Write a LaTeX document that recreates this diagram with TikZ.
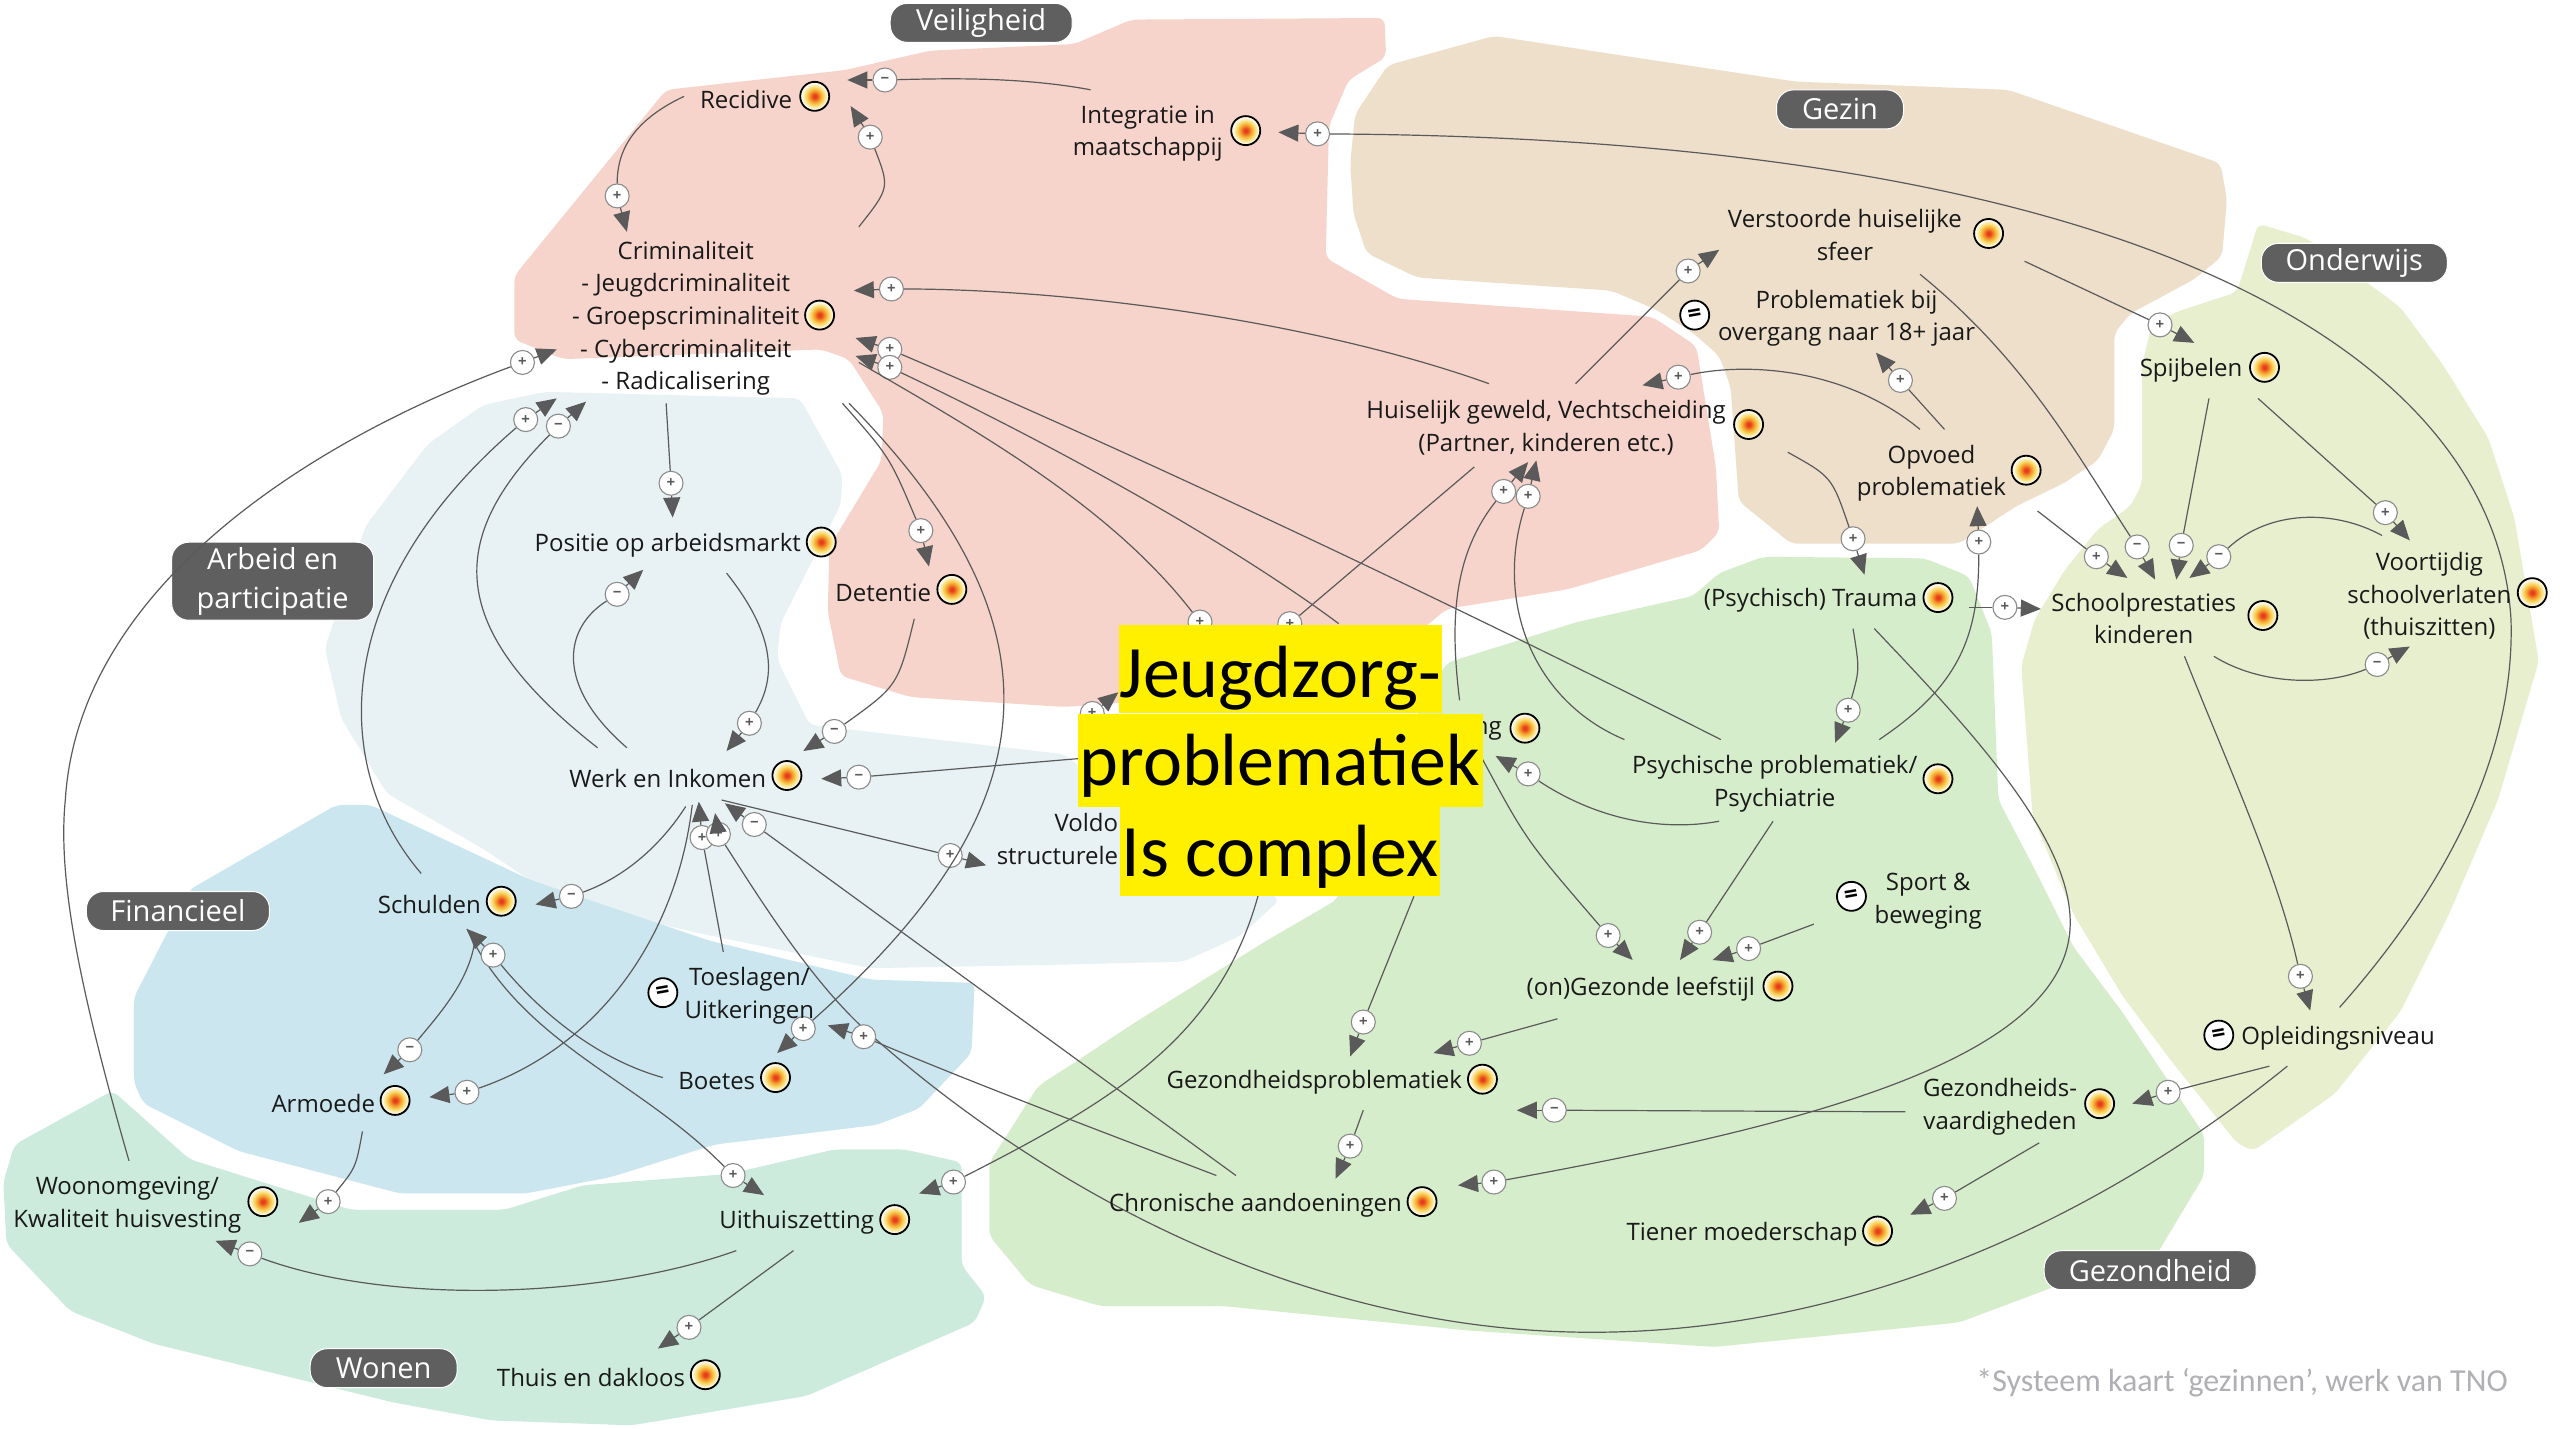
\documentclass[tikz,border=0pt]{standalone}
\usepackage{fontspec}
\setmainfont{Open Sans}
\newfontfamily\calibrifont{Carlito}
\usetikzlibrary{arrows.meta}
\definecolor{veilig}{HTML}{F7D4CB}
\definecolor{gezin}{HTML}{EEDFCB}
\definecolor{onderwijs}{HTML}{E8EFCF}
\definecolor{gezond}{HTML}{D6EDCB}
\definecolor{wonen}{HTML}{CCEBDD}
\definecolor{financieel}{HTML}{CBE6EF}
\definecolor{arbeid}{HTML}{E8F2F4}
\definecolor{linkgrey}{HTML}{5A5A5A}
\definecolor{pillgrey}{HTML}{5F5F5F}
\definecolor{notegrey}{HTML}{B0B0B4}
\definecolor{heatred}{HTML}{E63E1C}
\definecolor{heatorange}{HTML}{F4972A}
\definecolor{heatyellow}{HTML}{F8D75E}
\definecolor{heatpale}{HTML}{FBF4D6}
\definecolor{jeugdyellow}{HTML}{FFF000}
\pgfdeclareradialshading{heat}{\pgfpoint{0bp}{0bp}}{color(0bp)=(heatred);color(3bp)=(heatred);color(9bp)=(heatorange);color(15bp)=(heatyellow);color(21bp)=(heatpale);color(25bp)=(white);color(50bp)=(white)}
\tikzset{
  region/.style={rounded corners=7pt},
  link/.style={draw=linkgrey,line width=1.2pt},
  tip/.style={draw=linkgrey,fill=linkgrey,line width=1.2pt,-{Triangle[length=20pt,width=17pt]}},
  sign/.style={circle,draw=linkgrey!70,fill=white,line width=1.1pt,minimum size=24pt,inner sep=0pt,font=\fontsize{15}{15}\selectfont\bfseries,text=linkgrey},
  icon/.style={circle,draw=black,line width=1.8pt,shading=heat,minimum size=29pt,inner sep=0pt},
  eqsign/.style={circle,draw=black,fill=white,line width=1.8pt,minimum size=29pt,inner sep=0pt,font=\fontsize{24}{24}\selectfont\bfseries,text=black},
  concept/.style={inner sep=0pt,align=center,text=black!90,yshift=-1.5pt,font=\fontsize{24}{32.6}\selectfont},
  pill/.style={fill=pillgrey,draw=white,line width=1pt,rounded corners=17pt,text=white,align=center,inner sep=0pt,minimum height=39pt,font=\fontsize{29}{39}\selectfont},
  jeugd/.style={fill=jeugdyellow,text=black,inner sep=0pt,text depth=14pt,text height=64pt,font=\calibrifont\fontsize{74}{74}\selectfont}
}
\begin{document}
\begin{tikzpicture}[x=1.6327pt,y=-1.6327pt]
\useasboundingbox (0,0) rectangle (1568,875);
\fill [white] (0,0) rectangle (1568,875);

\fill [region,arbeid] (199,397) -- (224,322) -- (262,272) -- (296,248) -- (334,240) -- (490,244) -- (516,291) -- (515,309) -- (478,382) -- (476,404) -- (496,444) -- (652,462) -- (700,500) -- (784,551) -- (760,573) -- (725,589) -- (643,591) -- (533,593) -- (430,572) -- (344,552) -- (296,520) -- (237,486) -- (209,440) -- cycle;
\fill [region,financieel] (206,493) -- (227,493) -- (325,539) -- (434,576) -- (533,600) -- (597,602) -- (595,645) -- (563,679) -- (537,689) -- (438,701) -- (374,721) -- (322,731) -- (245,731) -- (146,705) -- (88,676) -- (82,663) -- (82,611) -- (116,545) -- cycle;
\fill [region,wonen] (69,668) -- (9,701) -- (2,724) -- (4,762) -- (43,803) -- (94,823) -- (241,859) -- (301,870) -- (387,873) -- (494,855) -- (597,810) -- (604,794) -- (589,775) -- (589,712) -- (554,704) -- (511,704) -- (447,719) -- (357,726) -- (309,741) -- (215,741) -- (116,710) -- cycle;
\fill [region,veilig] (693,12) -- (848,11) -- (849,35) -- (826,49) -- (814,77) -- (812,158) -- (856,183) -- (1012,194) -- (1039,212) -- (1051,286) -- (1053,326) -- (1042,337) -- (960,361) -- (886,373) -- (830,420) -- (652,433) -- (558,427) -- (515,414) -- (507,375) -- (508,335) -- (540,282) -- (541,253) -- (520,220) -- (503,214) -- (345,220) -- (315,208) -- (315,169) -- (408,55) -- (517,43) -- (570,31) -- (658,27) -- cycle;
\fill [region,gezin] (850,40) -- (915,22) -- (1000,35) -- (1100,50) -- (1230,55) -- (1360,100) -- (1364,122) -- (1361,157) -- (1344,171) -- (1305,192) -- (1295,204) -- (1295,263) -- (1285,282) -- (1264,296) -- (1235,310) -- (1200,333) -- (1097,333) -- (1086,324) -- (1065,307) -- (1060,237) -- (1053,218) -- (1037,204) -- (1015,190) -- (987,178) -- (868,170) -- (837,155) -- (829,131) -- (827,100) -- (830,70) -- cycle;
\fill [region,onderwijs] (1383,137) -- (1413,146) -- (1470,188) -- (1496,223) -- (1524,268) -- (1540,317) -- (1555,405) -- (1530,490) -- (1500,560) -- (1470,620) -- (1430,670) -- (1380,705) -- (1370,700) -- (1330,650) -- (1300,610) -- (1270,560) -- (1245,500) -- (1238,408) -- (1246,380) -- (1264,350) -- (1285,324) -- (1305,310) -- (1312,296) -- (1312,224) -- (1318,198) -- (1336,190) -- (1370,179) -- (1377,157) -- cycle;
\fill [region,gezond] (1080,341) -- (1179,342) -- (1206,353) -- (1220,388) -- (1224,490) -- (1245,530) -- (1270,580) -- (1300,620) -- (1350,695) -- (1350,720) -- (1320,770) -- (1280,780) -- (1200,810) -- (1050,825) -- (900,815) -- (750,800) -- (674,800) -- (631,787) -- (606,757) -- (606,712) -- (636,665) -- (661,649) -- (694,627) -- (776,576) -- (819,551) -- (850,470) -- (886,406) -- (966,381) -- (1037,365) -- (1053,351) -- cycle;

\node [pill,minimum width=182pt] (veiligheid) at (601,14) {Veiligheid};
\node [pill,minimum width=127pt] (gezinpill) at (1127,67) {Gezin};
\node [pill,minimum width=186pt] (onderwijspill) at (1442,161) {Onderwijs};
\node [pill,minimum width=202pt,minimum height=78pt] (arbeidpill) at (167,356) {Arbeid en\\participatie};
\node [pill,minimum width=183pt] (financieelpill) at (109,558) {Financieel};
\node [pill,minimum width=147pt] (wonenpill) at (235,838) {Wonen};
\node [pill,minimum width=212pt] (gezondheid) at (1317,778) {Gezondheid};

\coordinate (a1) at (419,59); \coordinate (b1) at (384,142); \node [sign] (s1) at (378,120) {+};
\draw [link] (a1) .. controls (385,75) and (378,95) .. (s1); \draw [tip] (s1) -- (b1);
\coordinate (a2) at (526,139); \coordinate (b2) at (521,65); \node [sign] (s2) at (533,84) {+};
\draw [link] (a2) .. controls (545,115) .. (s2); \draw [tip] (s2) -- (b2);
\coordinate (a3) at (668,55); \coordinate (b3) at (519,49); \node [sign] (s3) at (542,49) {−};
\draw [link] (a3) .. controls (625,47) and (580,48) .. (s3); \draw [tip] (s3) -- (b3);
\coordinate (a4) at (1433,617); \coordinate (b4) at (783,81); \node [sign] (s4) at (807,82) {+};
\draw [link] (a4) .. controls (1510,530) and (1540,450) .. (1538,380) .. controls (1530,230) and (1340,85) .. (s4); \draw [tip] (s4) -- (b4);
\coordinate (a5) at (912,235); \coordinate (b5) at (523,178); \node [sign] (s5) at (546,177) {+};
\draw [link] (a5) .. controls (800,195) and (650,177) .. (s5); \draw [tip] (s5) -- (b5);
\coordinate (a6) at (1054,453); \coordinate (b6) at (524,207); \node [sign] (s6) at (545,214) {+};
\draw [link] (a6) .. controls (900,375) and (700,280) .. (s6); \draw [tip] (s6) -- (b6);
\coordinate (a7) at (820,382); \coordinate (b7) at (524,218); \node [sign] (s7) at (545,225) {+};
\draw [link] (a7) .. controls (750,330) and (640,270) .. (s7); \draw [tip] (s7) -- (b7);
\coordinate (a8) at (526,222); \node [sign] (s8) at (735,381) {+};
\draw [link] (a8) .. controls (600,265) and (680,310) .. (s8);
\coordinate (a9) at (903,286); \node [sign] (s9) at (790,382) {+};
\draw [link] (a9) -- (s9);
\coordinate (b10) at (685,424); \node [sign] (s10) at (669,437) {+};
\draw [tip] (s10) -- (b10);
\coordinate (a11) at (680,463); \coordinate (b11) at (503,477); \node [sign] (s11) at (526,476) {−};
\draw [link] (a11) -- (s11); \draw [tip] (s11) -- (b11);
\coordinate (a12) at (443,583); \coordinate (b12) at (428,491); \node [sign] (s12) at (430,513) {+};
\draw [link] (a12) -- (s12); \draw [tip] (s12) -- (b12);
\coordinate (a13) at (424,493); \coordinate (b13) at (263,672); \node [sign] (s13) at (286,669) {+};
\draw [link] (a13) .. controls (415,570) and (370,640) .. (s13); \draw [tip] (s13) -- (b13);
\coordinate (a14) at (1401,653); \coordinate (b14) at (438,498); \node [sign] (s14) at (440,511) {+};
\draw [link] (a14) .. controls (1300,735) and (1150,816) .. (975,816) .. controls (800,816) and (640,730) .. (528,629) .. controls (495,598) and (465,550) .. (s14); \draw [tip] (s14) -- (b14);
\coordinate (a15) at (757,720); \coordinate (b15) at (444,492); \node [sign] (s15) at (462,505) {−};
\draw [link] (a15) -- (s15); \draw [tip] (s15) -- (b15);
\coordinate (a16) at (745,720); \coordinate (b16) at (507,628); \node [sign] (s16) at (529,635) {+};
\draw [link] (a16) .. controls (680,695) and (600,665) .. (s16); \draw [tip] (s16) -- (b16);
\coordinate (a17) at (442,490); \coordinate (b17) at (604,530); \node [sign] (s17) at (582,524) {+};
\draw [link] (a17) -- (s17); \draw [tip] (s17) -- (b17);
\coordinate (a18) at (520,247); \coordinate (b18) at (476,645); \node [sign] (s18) at (492,630) {+};
\draw [link] (a18) .. controls (650,380) and (650,490) .. (s18); \draw [tip] (s18) -- (b18);
\coordinate (a19) at (286,569); \coordinate (b19) at (468,732); \node [sign] (s19) at (449,720) {+};
\draw [link] (a19) .. controls (320,640) and (390,660) .. (s19); \draw [tip] (s19) -- (b19);
\coordinate (a20) at (406,660); \coordinate (b20) at (286,569); \node [sign] (s20) at (302,585) {+};
\draw [link] (a20) .. controls (370,650) and (335,625) .. (s20); \draw [tip] (s20) -- (b20);
\coordinate (a21) at (291,575); \coordinate (b21) at (235,658); \node [sign] (s21) at (251,643) {−};
\draw [link] (a21) .. controls (288,600) and (270,620) .. (s21); \draw [tip] (s21) -- (b21);
\coordinate (a22) at (222,693); \coordinate (b22) at (183,749); \node [sign] (s22) at (201,736) {+};
\draw [link] (a22) .. controls (218,715) .. (s22); \draw [tip] (s22) -- (b22);
\coordinate (a23) at (451,766); \coordinate (b23) at (132,760); \node [sign] (s23) at (153,768) {−};
\draw [link] (a23) .. controls (370,795) and (240,800) .. (s23); \draw [tip] (s23) -- (b23);
\coordinate (a24) at (486,766); \coordinate (b24) at (403,826); \node [sign] (s24) at (422,813) {+};
\draw [link] (a24) -- (s24); \draw [tip] (s24) -- (b24);
\coordinate (a25) at (79,711); \coordinate (b25) at (341,214); \node [sign] (s25) at (320,222) {+};
\draw [link] (a25) .. controls (50,610) and (35,540) .. (40,490) .. controls (48,360) and (190,270) .. (s25); \draw [tip] (s25) -- (b25);
\coordinate (a26) at (258,535); \coordinate (b26) at (341,244); \node [sign] (s26) at (322,257) {+};
\draw [link] (a26) .. controls (202,470) and (202,360) .. (s26); \draw [tip] (s26) -- (b26);
\coordinate (a27) at (366,458); \coordinate (b27) at (359,246); \node [sign] (s27) at (342,261) {−};
\draw [link] (a27) .. controls (273,385) and (273,330) .. (s27); \draw [tip] (s27) -- (b27);
\coordinate (a28) at (408,247); \coordinate (b28) at (412,317); \node [sign] (s28) at (411,296) {+};
\draw [link] (a28) -- (s28); \draw [tip] (s28) -- (b28);
\coordinate (a29) at (384,458); \coordinate (b29) at (394,349); \node [sign] (s29) at (378,364) {−};
\draw [link] (a29) .. controls (340,420) and (345,385) .. (s29); \draw [tip] (s29) -- (b29);
\coordinate (a30) at (445,351); \coordinate (b30) at (445,460); \node [sign] (s30) at (459,443) {+};
\draw [link] (a30) .. controls (480,395) and (472,420) .. (s30); \draw [tip] (s30) -- (b30);
\coordinate (a31) at (516,247); \coordinate (b31) at (569,347); \node [sign] (s31) at (564,325) {+};
\draw [link] (a31) .. controls (545,280) .. (s31); \draw [tip] (s31) -- (b31);
\coordinate (a32) at (560,379); \coordinate (b32) at (492,460); \node [sign] (s32) at (511,448) {−};
\draw [link] (a32) .. controls (550,420) .. (s32); \draw [tip] (s32) -- (b32);
\coordinate (a33) at (965,235); \coordinate (b33) at (1053,153); \node [sign] (s33) at (1034,166) {+};
\draw [link] (a33) -- (s33); \draw [tip] (s33) -- (b33);
\coordinate (a34) at (1176,263); \coordinate (b34) at (1006,236); \node [sign] (s34) at (1028,231) {+};
\draw [link] (a34) .. controls (1130,225) and (1070,222) .. (s34); \draw [tip] (s34) -- (b34);
\coordinate (a35) at (1191,263); \coordinate (b35) at (1149,216); \node [sign] (s35) at (1164,233) {+};
\draw [link] (a35) -- (s35); \draw [tip] (s35) -- (b35);
\coordinate (a36) at (1095,277); \coordinate (b36) at (1142,352); \node [sign] (s36) at (1135,330) {+};
\draw [link] (a36) .. controls (1122,292) .. (s36); \draw [tip] (s36) -- (b36);
\coordinate (a37) at (1151,453); \coordinate (b37) at (1211,310); \node [sign] (s37) at (1212,332) {+};
\draw [link] (a37) .. controls (1200,420) and (1212,390) .. (s37); \draw [tip] (s37) -- (b37);
\coordinate (a38) at (1135,385); \coordinate (b38) at (1124,455); \node [sign] (s38) at (1132,435) {+};
\draw [link] (a38) .. controls (1139,410) .. (s38); \draw [tip] (s38) -- (b38);
\coordinate (a39) at (1148,385); \coordinate (b39) at (893,726); \node [sign] (s39) at (915,724) {+};
\draw [link] (a39) .. controls (1200,440) and (1268,510) .. (1268,565) .. controls (1268,650) and (1100,690) .. (s39); \draw [tip] (s39) -- (b39);
\coordinate (a40) at (1176,168); \coordinate (b40) at (1320,355); \node [sign] (s40) at (1309,335) {−};
\draw [link] (a40) .. controls (1240,220) and (1270,275) .. (s40); \draw [tip] (s40) -- (b40);
\coordinate (a41) at (1240,160); \coordinate (b41) at (1344,210); \node [sign] (s41) at (1323,199) {+};
\draw [link] (a41) -- (s41); \draw [tip] (s41) -- (b41);
\coordinate (a42) at (1248,313); \coordinate (b42) at (1303,354); \node [sign] (s42) at (1284,341) {+};
\draw [link] (a42) -- (s42); \draw [tip] (s42) -- (b42);
\coordinate (a43) at (1353,244); \coordinate (b43) at (1333,355); \node [sign] (s43) at (1336,334) {−};
\draw [link] (a43) -- (s43); \draw [tip] (s43) -- (b43);
\coordinate (a44) at (1383,244); \coordinate (b44) at (1476,331); \node [sign] (s44) at (1461,314) {+};
\draw [link] (a44) -- (s44); \draw [tip] (s44) -- (b44);
\coordinate (a45) at (1459,328); \coordinate (b45) at (1341,354); \node [sign] (s45) at (1359,341) {−};
\draw [link] (a45) .. controls (1430,312) and (1390,312) .. (s45); \draw [tip] (s45) -- (b45);
\coordinate (a46) at (1356,402); \coordinate (b46) at (1476,396); \node [sign] (s46) at (1456,407) {−};
\draw [link] (a46) .. controls (1385,420) and (1425,420) .. (s46); \draw [tip] (s46) -- (b46);
\coordinate (a47) at (1338,402); \coordinate (b47) at (1415,619); \node [sign] (s47) at (1409,598) {+};
\draw [link] (a47) .. controls (1365,470) and (1395,535) .. (s47); \draw [tip] (s47) -- (b47);
\coordinate (a48) at (1206,372); \coordinate (b48) at (1250,373); \node [sign] (s48) at (1228,372) {+};
\draw [link] (a48) -- (s48); \draw [tip] (s48) -- (b48);
\coordinate (a49) at (1390,653); \coordinate (b49) at (1306,676); \node [sign] (s49) at (1328,669) {+};
\draw [link] (a49) -- (s49); \draw [tip] (s49) -- (b49);
\coordinate (a50) at (1249,700); \coordinate (b50) at (1170,744); \node [sign] (s50) at (1191,734) {+};
\draw [link] (a50) -- (s50); \draw [tip] (s50) -- (b50);
\coordinate (a51) at (1167,681); \coordinate (b51) at (929,680); \node [sign] (s51) at (952,680) {−};
\draw [link] (a51) -- (s51); \draw [tip] (s51) -- (b51);
\coordinate (a52) at (1053,503); \coordinate (b52) at (916,463); \node [sign] (s52) at (936,474) {+};
\draw [link] (a52) .. controls (1015,510) and (975,500) .. (s52); \draw [tip] (s52) -- (b52);
\coordinate (a53) at (1086,503); \coordinate (b53) at (1029,588); \node [sign] (s53) at (1041,571) {+};
\draw [link] (a53) -- (s53); \draw [tip] (s53) -- (b53);
\coordinate (a54) at (908,465); \coordinate (b54) at (1000,588); \node [sign] (s54) at (985,573) {+};
\draw [link] (a54) .. controls (935,515) .. (s54); \draw [tip] (s54) -- (b54);
\coordinate (a55) at (1111,566); \coordinate (b55) at (1049,588); \node [sign] (s55) at (1071,581) {+};
\draw [link] (a55) -- (s55); \draw [tip] (s55) -- (b55);
\coordinate (a56) at (866,549); \coordinate (b56) at (827,647); \node [sign] (s56) at (835,626) {+};
\draw [link] (a56) -- (s56); \draw [tip] (s56) -- (b56);
\coordinate (a57) at (954,624); \coordinate (b57) at (878,645); \node [sign] (s57) at (900,639) {+};
\draw [link] (a57) -- (s57); \draw [tip] (s57) -- (b57);
\coordinate (a58) at (835,680); \coordinate (b58) at (818,722); \node [sign] (s58) at (827,702) {+};
\draw [link] (a58) -- (s58); \draw [tip] (s58) -- (b58);
\coordinate (a59) at (775,530); \coordinate (b59) at (563,731); \node [sign] (s59) at (584,724) {+};
\draw [link] (a59) .. controls (755,630) and (690,670) .. (s59); \draw [tip] (s59) -- (b59);
\coordinate (a60) at (894,429); \coordinate (b60) at (936,283); \node [sign] (s60) at (921,301) {+};
\draw [link] (a60) .. controls (888,380) and (890,340) .. (s60); \draw [tip] (s60) -- (b60);
\coordinate (a61) at (995,453); \coordinate (b61) at (941,282); \node [sign] (s61) at (936,304) {+};
\draw [link] (a61) .. controls (940,430) and (915,370) .. (s61); \draw [tip] (s61) -- (b61);
\coordinate (a62) at (420,494); \coordinate (b62) at (328,554); \node [sign] (s62) at (350,549) {−};
\draw [link] (a62) .. controls (400,525) and (375,540) .. (s62); \draw [tip] (s62) -- (b62);

\node [concept] (recidive) at (457,60) {Recidive};
\node [concept] (integratie) at (703,81) {Integratie in\\maatschappij};
\node [concept] (criminaliteit) at (420,194) {Criminaliteit\\- Jeugdcriminaliteit\\- Groepscriminaliteit\\- Cybercriminaliteit\\- Radicalisering};
\node [concept] (huiselijk) at (947,261) {Huiselijk geweld, Vechtscheiding\\(Partner, kinderen etc.)};
\node [concept] (verstoorde) at (1130,143) {Verstoorde huiselijke\\sfeer};
\node [concept] (overgang) at (1131,194) {Problematiek bij\\overgang naar 18+ jaar};
\node [concept] (opvoed) at (1183,289) {Opvoed\\problematiek};
\node [concept] (spijbelen) at (1342,226) {Spijbelen};
\node [concept] (school) at (1313,378) {Schoolprestaties\\kinderen};
\node [concept] (voortijdig) at (1488,364) {Voortijdig\\schoolverlaten\\(thuiszitten)};
\node [concept] (trauma) at (1109,367) {(Psychisch) Trauma};
\node [concept] (psychische) at (1087,479) {Psychische problematiek/\\Psychiatrie};
\node [concept,anchor=east] (verborgen) at (920,447) {ng};
\node [concept,anchor=east] (voldo) at (685,503) {Voldo};
\node [concept,anchor=east] (structurele) at (685,523) {structurele};
\node [concept] (sport) at (1181,551) {Sport \&\\beweging};
\node [concept] (leefstijl) at (1005,605) {(on)Gezonde leefstijl};
\node [concept] (problematiek) at (805,662) {Gezondheidsproblematiek};
\node [concept] (chronisch) at (769,737) {Chronische aandoeningen};
\node [concept] (vaardig) at (1225,677) {Gezondheids-\\vaardigheden};
\node [concept] (tiener) at (1067,755) {Tiener moederschap};
\node [concept] (opleiding) at (1432,635) {Opleidingsniveau};
\node [concept] (positie) at (409,333) {Positie op arbeidsmarkt};
\node [concept] (detentie) at (541,362) {Detentie};
\node [concept] (werk) at (409,476) {Werk en Inkomen};
\node [concept] (schulden) at (263,553) {Schulden};
\node [concept] (toeslagen) at (459,609) {Toeslagen/\\Uitkeringen};
\node [concept] (boetes) at (439,661) {Boetes};
\node [concept] (armoede) at (198,675) {Armoede};
\node [concept] (woon) at (78,737) {Woonomgeving/\\Kwaliteit huisvesting};
\node [concept] (uithuis) at (488,748) {Uithuiszetting};
\node [concept] (thuis) at (362,843) {Thuis en dakloos};

\foreach \p [count=\n] in {(499,59),(763,80),(502,193),(1071,260),(1218,143),(1241,288),(1387,225),(1386,377),(1551,363),(1187,366),(1187,477),(934,446),(1089,604),(908,661),(871,736),(1286,676),(1150,754),(503,332),(583,361),(482,475),(307,552),(475,660),(242,674),(161,736),(548,747),(432,842)}
  \node [icon] (i\n) at \p {};

\node [eqsign] (e1) at (1038,193) {\rotatebox{10}{=}};
\node [eqsign] (e2) at (1134,549) {\rotatebox{10}{=}};
\node [eqsign] (e3) at (1359,634) {\rotatebox{10}{=}};
\node [eqsign] (e4) at (406,608) {\rotatebox{10}{=}};

\node [text=notegrey,anchor=east,inner sep=0pt,font=\calibrifont\fontsize{32}{32}\selectfont] (voetnoot) at (1536,847) {*Systeem kaart ‘gezinnen’, werk van TNO};

\node [jeugd,text height=70pt,minimum width=323pt,minimum height=88pt] (jeugd1) at (784,410) {Jeugdzorg-};
\node [jeugd,minimum width=405pt,minimum height=93pt] (jeugd2) at (784,465.5) {problematiek};
\node [jeugd,minimum width=320pt,minimum height=90pt] (jeugd3) at (784,521.5) {Is complex};
\end{tikzpicture}
\end{document}
